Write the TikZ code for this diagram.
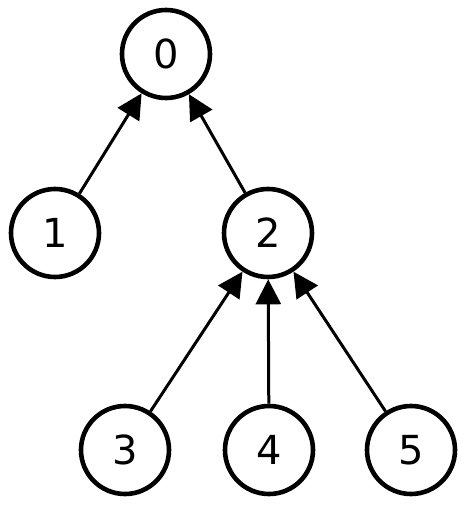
\documentclass[tikz,border=0pt]{standalone}
\usepackage{fontspec}
\setmainfont{DejaVu Sans}
\usetikzlibrary{arrows.meta}
\begin{document}
\begin{tikzpicture}[x=1pt,y=-1pt,
  vert/.style={circle,draw,line width=4.6pt,minimum size=88pt,inner sep=0pt,font=\fontsize{40}{42}\selectfont},
  edge/.style={line width=3pt,-{Triangle[length=25pt,width=25pt]}}]
\useasboundingbox (0,0) rectangle (464,506);
\node[vert] (n0) at (166,54) {0};
\node[vert] (n1) at (55,233) {1};
\node[vert] (n2) at (268,233) {2};
\node[vert] (n3) at (125,450) {3};
\node[vert] (n4) at (269,450) {4};
\node[vert] (n5) at (411,450) {5};
\draw[edge] (n1) -- (n0);
\draw[edge] (n2) -- (n0);
\draw[edge] (n3) -- (n2);
\draw[edge] (n4) -- (n2);
\draw[edge] (n5) -- (n2);
\end{tikzpicture}
\end{document}
